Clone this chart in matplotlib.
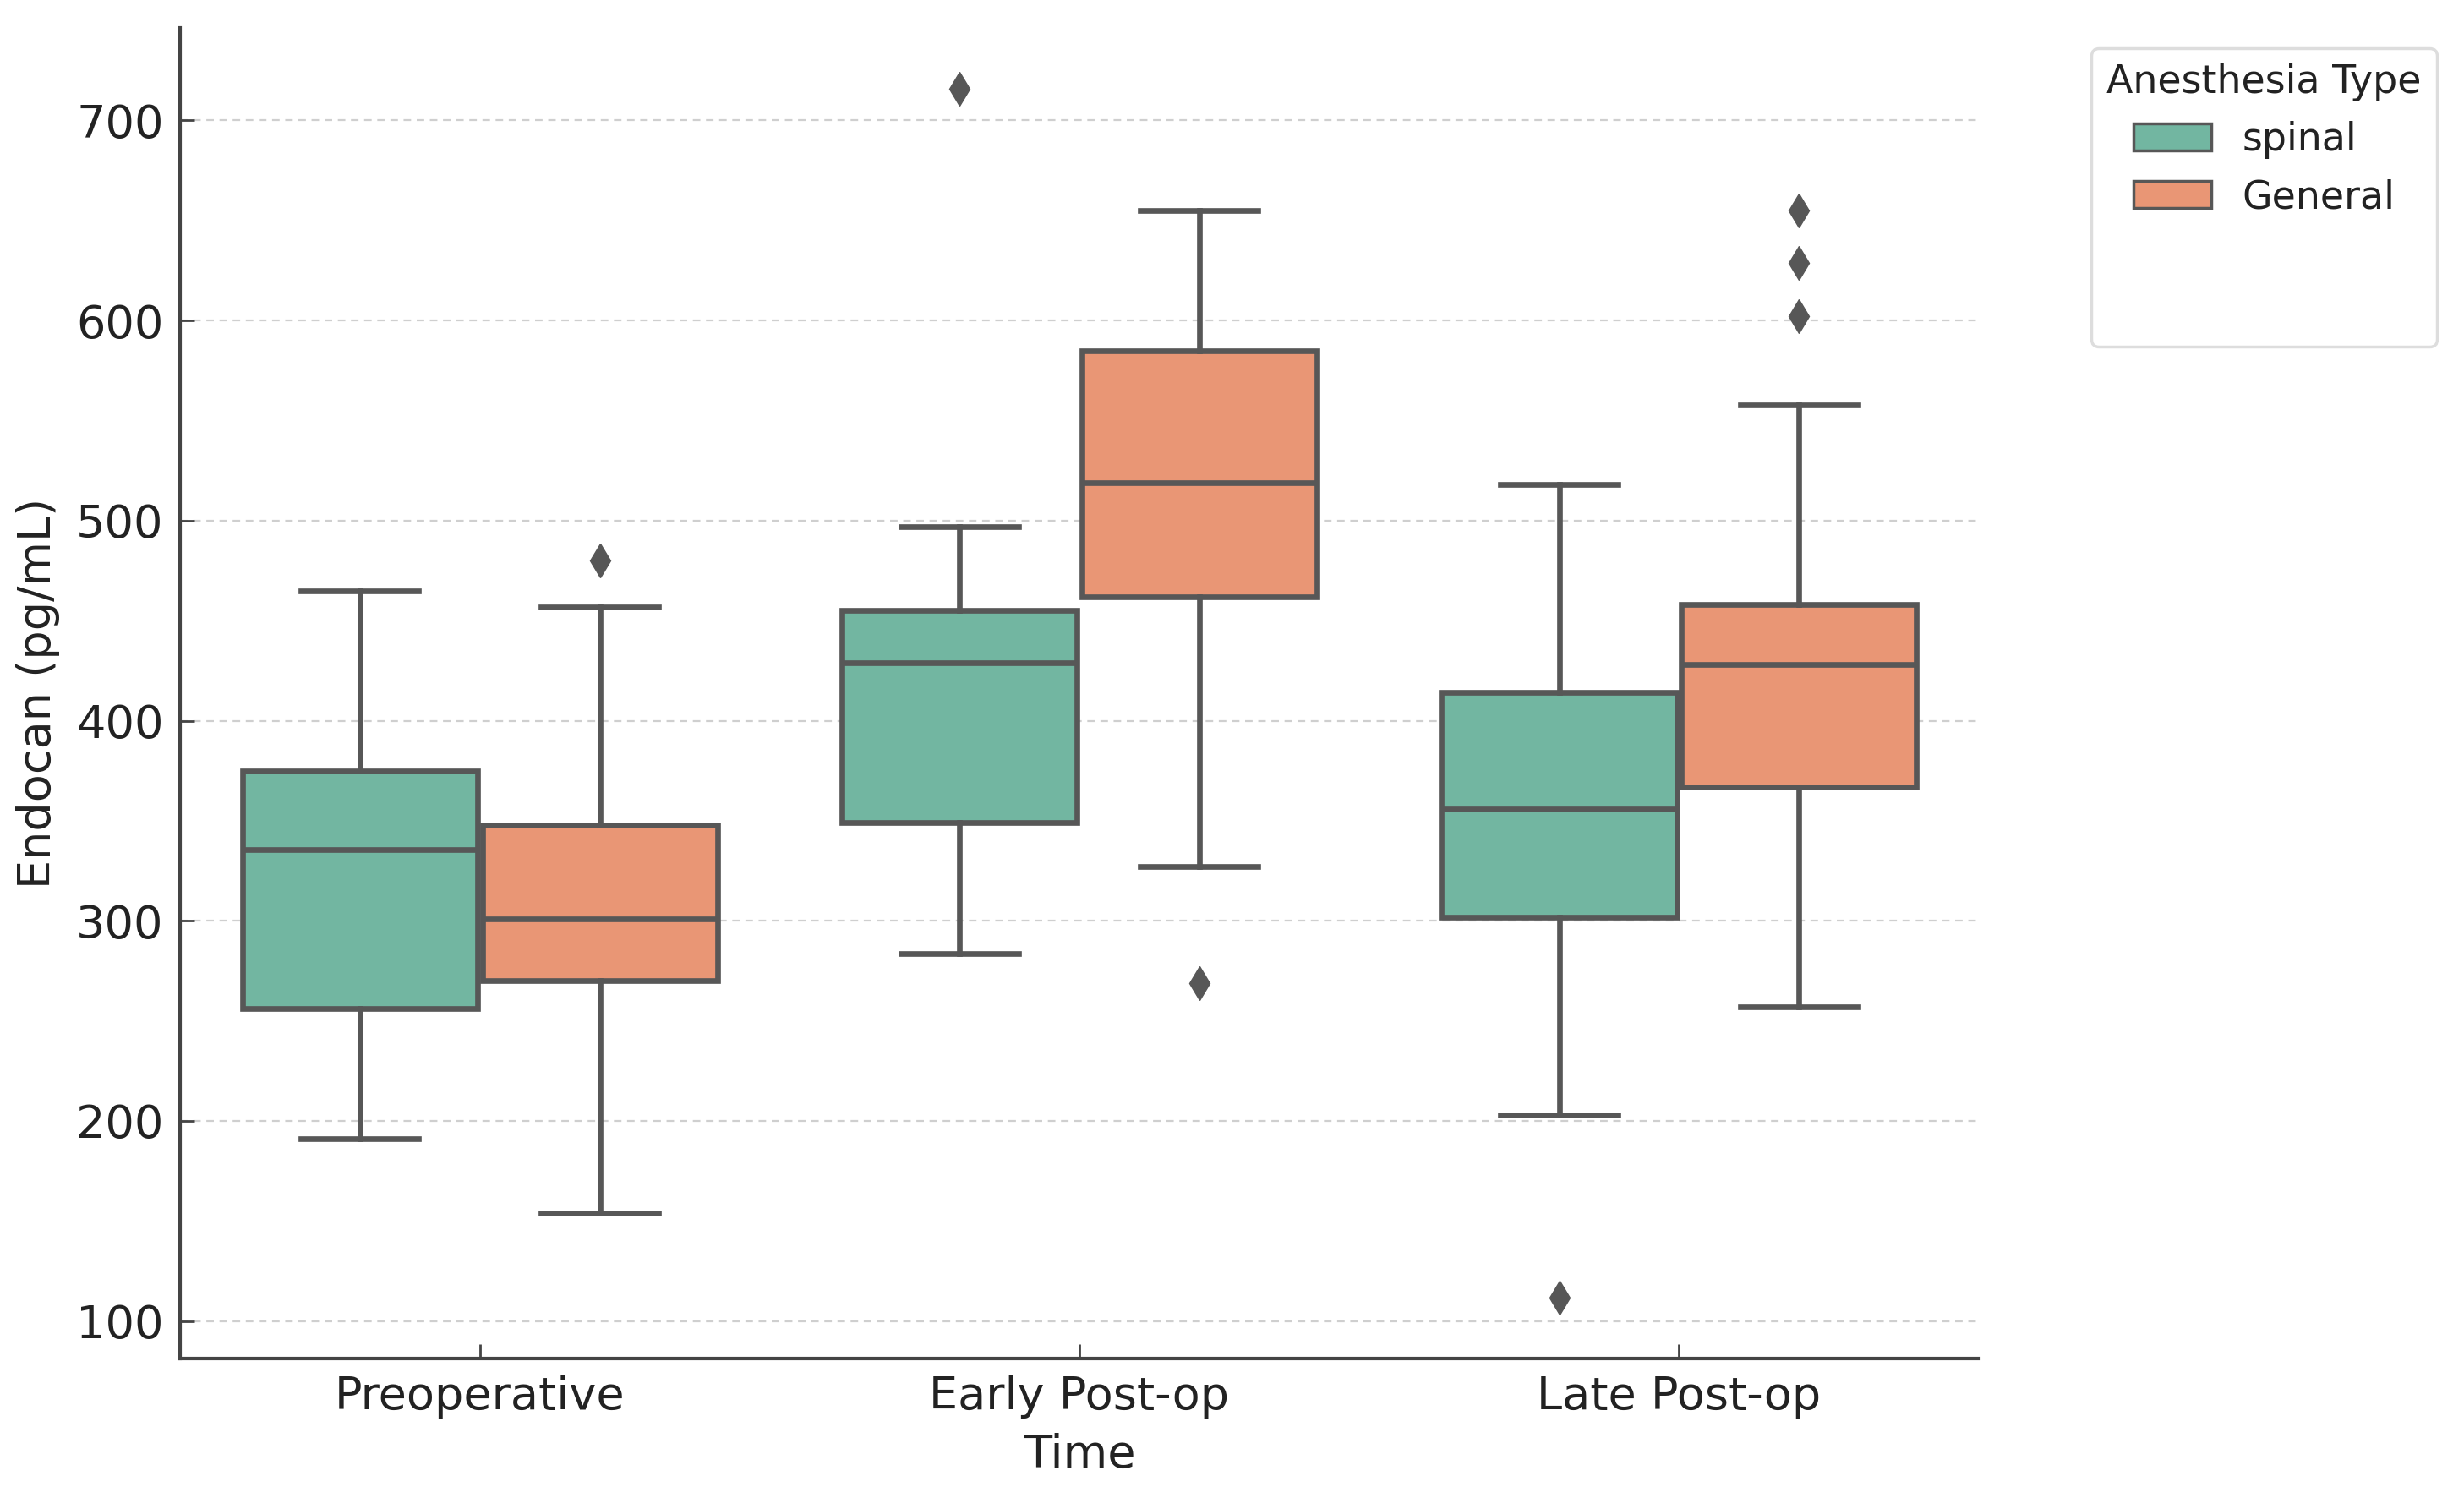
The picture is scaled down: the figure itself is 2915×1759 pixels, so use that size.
import matplotlib
matplotlib.use("Agg")
import matplotlib.pyplot as plt
from matplotlib.patches import Patch

# ---- data ----
categories = ["Preoperative", "Early Post-op", "Late Post-op"]
hue_levels = ["spinal", "General"]

spinal_whislo = [191, 283.5, 203]
spinal_q1 = [256, 349, 302]
spinal_med = [335.5, 429, 356]
spinal_q3 = [375, 455, 414]
spinal_whishi = [465, 497, 518]
spinal_fliers = [[], [716], [111.5]]

general_whislo = [154, 327, 257]
general_q1 = [270, 462, 367]
general_med = [301, 519, 428]
general_q3 = [348, 585, 458]
general_whishi = [457, 655, 558]
general_fliers = [[480], [269], [602, 629, 655]]

yticks = [100, 200, 300, 400, 500, 600, 700]
colors = ["#72b6a1", "#e99675"]
edge = "#575757"

fig = plt.figure(figsize=(29.15, 17.59), dpi=100)
ax = fig.add_axes([0.0731, 0.0864, 0.7300, 0.8948])

series = [
    (spinal_whislo, spinal_q1, spinal_med, spinal_q3, spinal_whishi, spinal_fliers),
    (general_whislo, general_q1, general_med, general_q3, general_whishi, general_fliers),
]
offsets = [-0.2, 0.2]
box_w = 0.392
lw = 4.8

for h, (wlo, q1, med, q3, whi, fl) in enumerate(series):
    stats = []
    for i in range(len(categories)):
        stats.append(dict(med=med[i], q1=q1[i], q3=q3[i], whislo=wlo[i],
                          whishi=whi[i], fliers=fl[i]))
    pos = [i + offsets[h] for i in range(len(categories))]
    ax.bxp(stats, positions=pos, widths=box_w, patch_artist=True,
           showfliers=True, manage_ticks=False,
           boxprops=dict(facecolor=colors[h], edgecolor=edge, linewidth=lw),
           medianprops=dict(color=edge, linewidth=lw),
           whiskerprops=dict(color=edge, linewidth=lw),
           capprops=dict(color=edge, linewidth=lw),
           flierprops=dict(marker="d", markerfacecolor=edge, markeredgecolor=edge,
                           markersize=20, linestyle="none"))

ax.set_xlim(-0.5, 2.5)
ax.margins(y=0.05)
ax.set_xticks(range(len(categories)))
ax.set_xticklabels(categories)
ax.set_yticks(yticks)

ax.grid(axis="y", linestyle=(0, (4, 3)), color="#cfcfcf", linewidth=1.6)
ax.grid(axis="x", visible=False)

for s in ["top", "right"]:
    ax.spines[s].set_visible(False)
for s in ["left", "bottom"]:
    ax.spines[s].set_linewidth(3.0)
    ax.spines[s].set_color("#444444")

ax.tick_params(axis="both", direction="in", length=12, width=2, colors="#444444",
               labelsize=39, labelcolor="#222222", pad=14)

ax.set_xlabel("Time", fontsize=39, color="#222222", labelpad=12)
ax.set_ylabel("Endocan (pg/mL)", fontsize=39, color="#222222", labelpad=14)

handles = [Patch(facecolor=colors[0], edgecolor=edge, linewidth=2.5),
           Patch(facecolor=colors[1], edgecolor=edge, linewidth=2.5),
           Patch(facecolor="none", edgecolor="none"),
           Patch(facecolor="none", edgecolor="none")]
labels = hue_levels + [" ", " "]
leg = fig.legend(handles, labels, title="Anesthesia Type", loc="upper left",
                 bbox_to_anchor=(2474 / 2915, 1 - 57 / 1759), borderaxespad=0,
                 fontsize=33, title_fontsize=33, frameon=True, fancybox=True)
leg.get_frame().set_edgecolor("#d5d5d5")
leg.get_frame().set_linewidth(2.5)
for t in leg.get_texts():
    t.set_color("#222222")
leg.get_title().set_color("#222222")

fig.savefig("out.png", dpi=100)
